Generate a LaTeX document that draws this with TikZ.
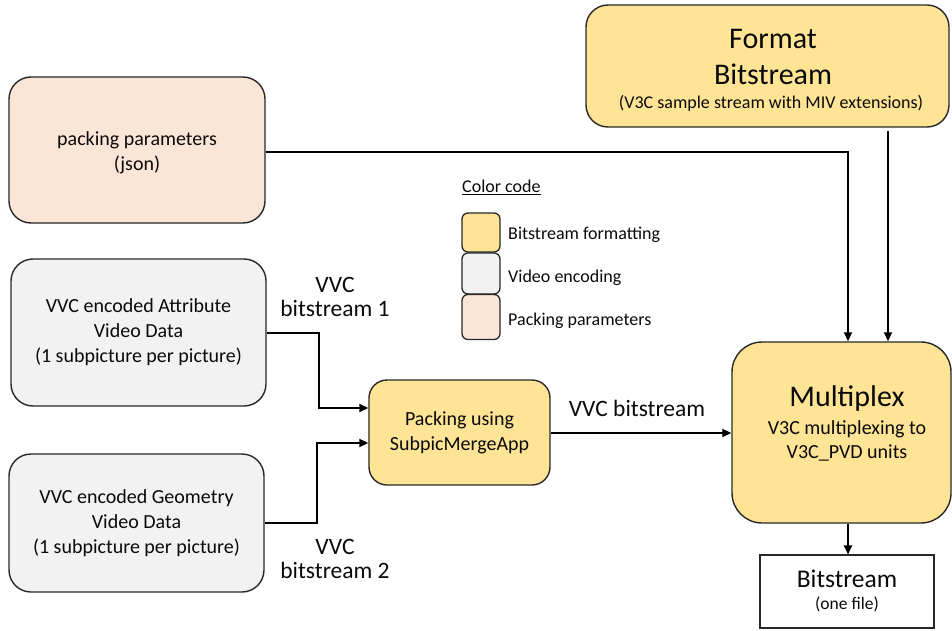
\documentclass[tikz,border=0pt]{standalone}
\usepackage{fontspec}
\setmainfont{Carlito}
\usetikzlibrary{arrows.meta,positioning}
\definecolor{yel}{RGB}{255,228,150}
\definecolor{gry}{RGB}{242,242,242}
\definecolor{pnk}{RGB}{251,229,214}
\definecolor{edge}{RGB}{40,40,40}
\definecolor{txt}{RGB}{10,10,10}
\tikzset{
  box/.style={draw=edge, line width=1.4pt, rounded corners=22pt, align=center, text=txt, inner sep=0pt},
  ybox/.style={box, fill=yel},
  gbox/.style={box, fill=gry},
  pbox/.style={box, fill=pnk},
  lgbox/.style={draw=edge, line width=1.3pt, rounded corners=6pt, minimum width=38pt, inner sep=0pt},
  lbl/.style={align=center, text=txt, inner sep=0pt},
  arr/.style={draw=black, line width=1.8pt, -{Triangle[length=9pt,width=8pt]}},
  body/.style={font=\fontsize{20}{25}\selectfont},
}
\begin{document}
\begin{tikzpicture}[x=1pt,y=-1pt]
\useasboundingbox (0,0) rectangle (952,631);
% boxes
\node[ybox, minimum width=363pt, minimum height=122pt] (fmt) at (767.5,66) {};
\node[lbl, font=\fontsize{30}{36}\selectfont] (fmtT) at (773,57) {Format\\Bitstream};
\node[lbl, font=\fontsize{18}{22}\selectfont] (fmtS) at (771,103) {(V3C sample stream with MIV extensions)};

\node[pbox, minimum width=256pt, minimum height=146pt] (pk) at (137,150) {};
\node[lbl, body] (pkT) at (137,153) {packing parameters\\(json)};
\node[gbox, body, minimum width=255pt, minimum height=147pt] (attr) at (138.5,332.5) {VVC encoded Attribute\\Video Data\\(1 subpicture per picture)};
\node[gbox, body, minimum width=255pt, minimum height=138pt] (geom) at (136.5,523) {VVC encoded Geometry\\Video Data\\(1 subpicture per picture)};
\node[ybox, body, rounded corners=18pt, minimum width=181pt, minimum height=105pt] (pack) at (459.5,432.5) {Packing using\\SubpicMergeApp};

\node[ybox, rounded corners=30pt, minimum width=219pt, minimum height=181pt] (mux) at (841.5,432.5) {};
\node[lbl, font=\fontsize{30}{36}\selectfont] (muxT) at (847,398) {Multiplex};
\node[lbl, body, font=\fontsize{20}{24}\selectfont] (muxS) at (847,441) {V3C multiplexing to\\V3C\_PVD units};

\node[draw=edge, line width=1.1pt, minimum width=174pt, minimum height=73pt, inner sep=0pt] (bit) at (847,591.5) {};
\node[lbl, font=\fontsize{25.5}{30}\selectfont] (bitT) at (847,579) {Bitstream};
\node[lbl, font=\fontsize{17.5}{20}\selectfont] (bitS) at (847,604) {(one file)};

% legend
\node[lbl, anchor=west, font=\fontsize{18}{22}\selectfont] (lgT) at (462,187) {\underline{Color code}};
\node[lgbox, fill=yel, minimum height=39pt] (lgY) at (481,232.5) {};
\node[lgbox, fill=gry, minimum height=41pt] (lgG) at (481,273.5) {};
\node[lgbox, fill=pnk, minimum height=45pt] (lgP) at (481,317) {};
\node[lbl, anchor=west, font=\fontsize{18}{22}\selectfont] (lgYt) at (508,235) {Bitstream formatting};
\node[lbl, anchor=west, font=\fontsize{18}{22}\selectfont] (lgGt) at (508,278) {Video encoding};
\node[lbl, anchor=west, font=\fontsize{18}{22}\selectfont] (lgPt) at (508,321) {Packing parameters};

% connector labels
\node[lbl, font=\fontsize{23.5}{24}\selectfont] (l1) at (335,297) {VVC\\bitstream 1};
\node[lbl, font=\fontsize{23.5}{24}\selectfont] (l2) at (335,559) {VVC\\bitstream 2};
\node[lbl, font=\fontsize{23.5}{24}\selectfont] (l3) at (637,408) {VVC bitstream};

% connectors
\coordinate (c1) at (848,152);
\draw[arr] (pk.east |- c1) -- (c1) -- (c1 |- mux.north);
\coordinate (f1) at (888,131);
\draw[arr] (f1) -- (f1 |- mux.north);
\coordinate (a1) at (319,333);
\coordinate (a2) at (319,408);
\draw[arr] (attr.east |- a1) -- (a1) -- (a2) -- (pack.west |- a2);
\coordinate (g1) at (317,523);
\coordinate (g2) at (317,443);
\draw[arr] (geom.east |- g1) -- (g1) -- (g2) -- (pack.west |- g2);
\coordinate (p1) at (0,433);
\draw[arr] (pack.east |- p1) -- (mux.west |- p1);
\coordinate (m1) at (848,0);
\draw[arr] (m1 |- mux.south) -- (m1 |- bit.north);
\end{tikzpicture}
\end{document}
